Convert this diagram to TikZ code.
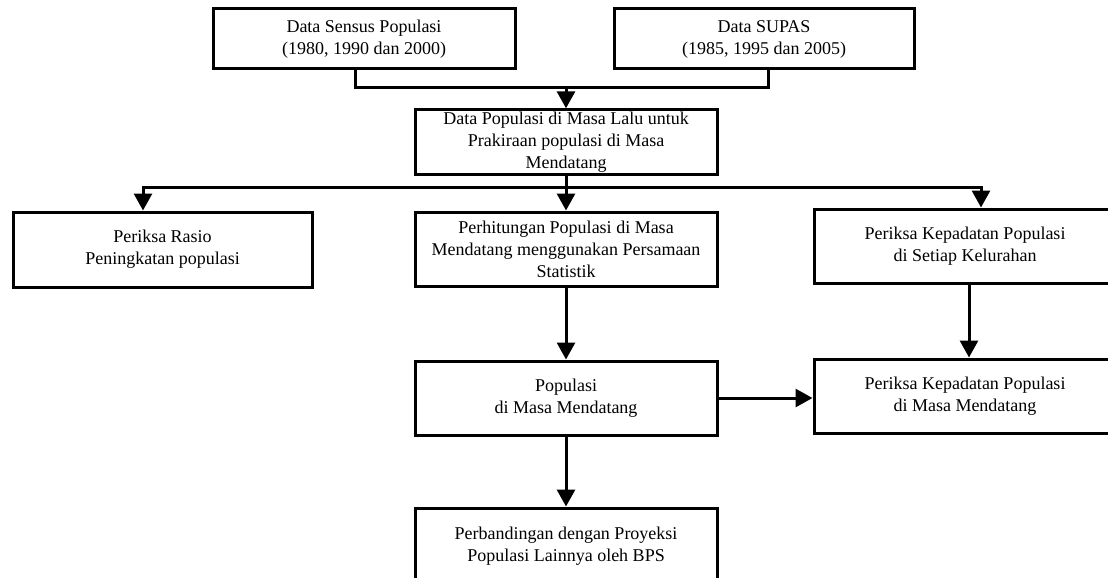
\documentclass[tikz,border=0pt]{standalone}
\usepackage{fontspec}
\setmainfont{Liberation Serif}
\usetikzlibrary{arrows.meta}
\tikzset{
  box/.style={draw, line width=3pt, fill=white, align=center, inner sep=2pt,
    font=\fontsize{18}{22}\selectfont},
  conn/.style={line width=3pt},
  arr/.style={line width=3pt, -{Triangle[width=18pt,length=17pt]}}
}
\begin{document}
\begin{tikzpicture}[x=1pt,y=-1pt]
\clip (0,0) rectangle (1108,578);
\fill[white] (0,0) rectangle (1108,578);
% nodes
\node[box, minimum width=302pt, minimum height=60pt] (A) at (364,39) {Data Sensus Populasi\\(1980, 1990 dan 2000)};
\node[box, minimum width=300pt, minimum height=60pt] (B) at (764,39) {Data SUPAS\\(1985, 1995 dan 2005)};
\node[box, minimum width=302pt, minimum height=62pt] (C) at (566,142) {Data Populasi di Masa Lalu untuk\\Prakiraan populasi di Masa\\Mendatang};
\node[box, minimum width=299pt, minimum height=75pt] (D) at (162.5,249.5) {Periksa Rasio\\Peningkatan populasi};
\node[box, minimum width=302pt, minimum height=74pt] (E) at (566,249) {Perhitungan Populasi di Masa\\Mendatang menggunakan Persamaan\\Statistik};
\node[box, minimum width=302pt, minimum height=74pt] (F) at (965,246) {Periksa Kepadatan Populasi\\di Setiap Kelurahan};
\node[box, minimum width=302pt, minimum height=74pt] (G) at (566,398) {Populasi\\di Masa Mendatang};
\node[box, minimum width=302pt, minimum height=74pt] (I) at (965,396) {Periksa Kepadatan Populasi\\di Masa Mendatang};
\node[box, minimum width=302pt, minimum height=76pt] (H) at (566,546) {Perbandingan dengan Proyeksi\\Populasi Lainnya oleh BPS};
% connectors
\coordinate (m) at (566,87);
\coordinate (br) at (566,187);
\draw[conn] ([xshift=-9pt]A.south) |- (m) -| ([xshift=4pt]B.south);
\draw[arr] (m) -- (C.north);
\draw[conn] (C.south) -- (br);
\draw[arr] (br) -| ([xshift=-19.5pt]D.north);
\draw[arr] (br) -| ([xshift=16pt]F.north);
\draw[arr] (br) -- (E.north);
\draw[arr] (E.south) -- (G.north);
\draw[arr] (G.south) -- (H.north);
\draw[arr] (G.east) -- (G.east -| I.west);
\draw[arr] ([xshift=4pt]F.south) -- ([xshift=4pt]I.north);
\end{tikzpicture}
\end{document}
